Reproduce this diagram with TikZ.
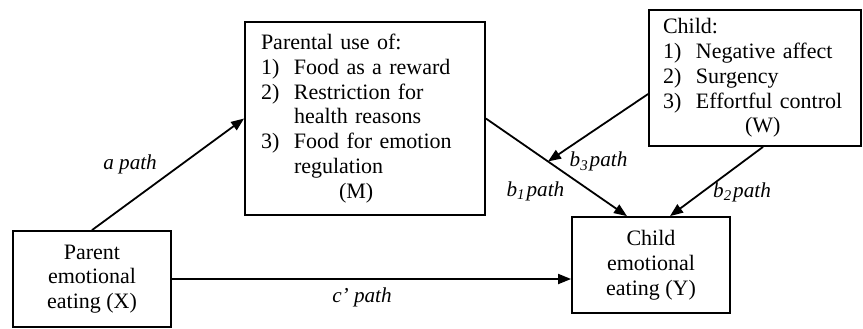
\documentclass[tikz,border=0pt]{standalone}
\usepackage{fontspec}
\setmainfont{Liberation Serif}
\usetikzlibrary{arrows.meta}
\newcommand{\itm}[2]{\makebox[16.5pt][l]{#1}#2}
\newcommand{\sub}[1]{\textit{b\textsubscript{#1}\kern0.5pt path}}
\begin{document}
\begin{tikzpicture}[x=0.5pt, y=-0.5pt]
        \tikzstyle{box}=[draw, line width=0.9pt, inner sep=0pt, font=\fontsize{11}{12.4}\selectfont]
        \tikzstyle{path}=[line width=0.9pt, -{Triangle[length=6.5pt, width=5pt]}]
        \tikzstyle{lbl}=[font=\fontsize{10.6}{12.4}\selectfont\itshape, inner sep=0pt]
        \useasboundingbox (0,0) rectangle (863,328);
        % Boxes
        \node[box, minimum width=120pt, minimum height=96.5pt, text width=104pt, align=left] (M) at (365,118.5)
        {Parental use of:\\
        \itm{1)}{Food as a reward}\\
        \itm{2)}{Restriction for}\\
        \hspace*{16.5pt}health reasons\\
        \itm{3)}{Food for emotion}\\
        \hspace*{16.5pt}regulation\\
        \hspace*{39pt}(M)};
        \node[box, minimum width=106pt, minimum height=68pt, text width=92pt, align=left] (W) at (755,78)
        {Child:\\
        \itm{1)}{Negative affect}\\
        \itm{2)}{Surgency}\\
        \itm{3)}{Effortful control}\\
        \hspace*{41pt}(W)};
        \node[box, minimum width=79pt, minimum height=48pt, align=center] (X) at (92,279)
        {Parent\\ emotional\\ eating (X)};
        \node[box, minimum width=79pt, minimum height=48pt, align=center] (Y) at (651,265)
        {Child\\ emotional\\ eating (Y)};
        % Paths
        \draw[path] (X.north) -- node[lbl, xshift=-19pt, yshift=5pt] (la) {a path} (M.west);
        \draw[path] (X.east) -- node[lbl, xshift=-4.75pt, yshift=-9pt] (lc) {c’ path} (X.east -| Y.west);
        \draw[path] (M.east) -- coordinate[pos=0.44] (mod)
        node[lbl, xshift=-10.5pt, yshift=-12pt] (lb1) {\sub{1}} ([xshift=-12pt]Y.north);
        \draw[path] ([yshift=-8pt]W.west) -- node[lbl, xshift=0.25pt, yshift=-17pt] (lb3) {\sub{3}} (mod);
        \draw[path] ([xshift=4pt]W.south) -- node[lbl, xshift=12.75pt, yshift=-5.25pt] (lb2) {\sub{2}} ([xshift=9.5pt]Y.north);
\end{tikzpicture}
\end{document}
